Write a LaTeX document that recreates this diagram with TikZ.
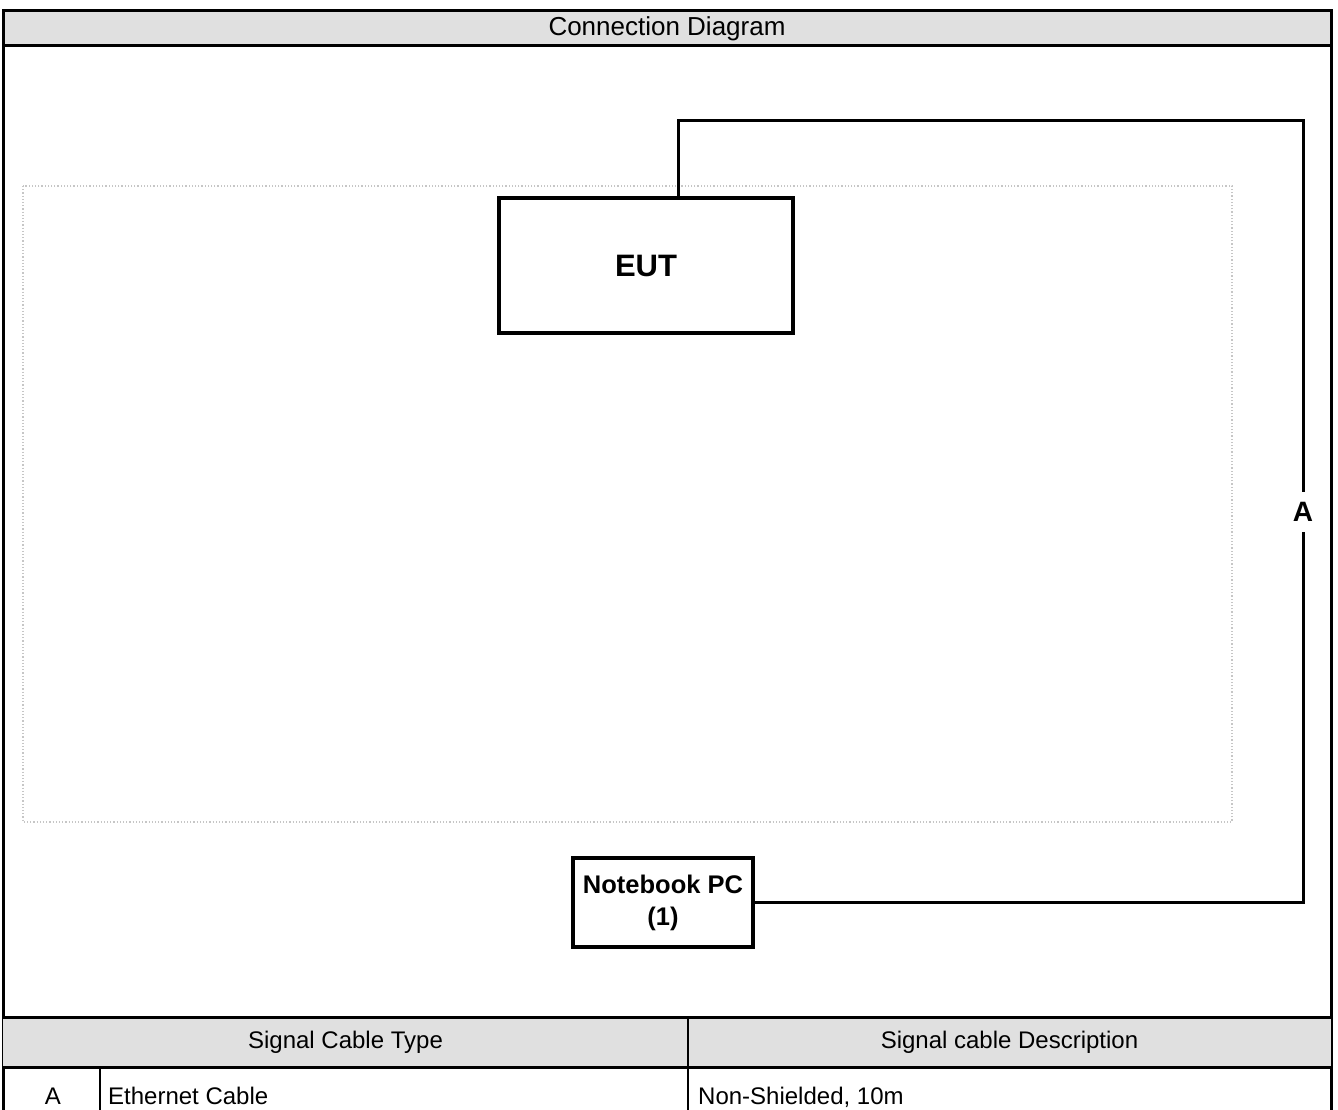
\documentclass[tikz,border=0pt]{standalone}
\usepackage{fontspec}
\setmainfont{Liberation Sans}
\usepackage{tikz}
\usetikzlibrary{positioning}
\definecolor{hdrgray}{RGB}{224,224,224}

\begin{document}
\begin{tikzpicture}[x=1pt,y=-1pt,
      frame line/.style={line width=3pt},
      cell line/.style={line width=2.2pt},
      unit box/.style={draw,line width=3.5pt,rectangle,inner sep=0pt,font=\fontsize{25.5}{32}\selectfont\bfseries,align=center},
      cable/.style={line width=3pt},
      cable label/.style={fill=white,inner sep=0pt,minimum height=40pt,font=\fontsize{28}{30}\selectfont\bfseries},
      table text/.style={inner sep=0pt,font=\fontsize{24}{28}\selectfont}]
      \clip (0,0) rectangle (1338,1110);
      \fill[white] (0,0) rectangle (1338,1110);

      % title band and frame
      \fill[hdrgray] (3,11) rectangle (1331,46);
      \draw[frame line] (3,1120) -- (3,11) -- (1331,11) -- (1331,1120);
      \draw[frame line] (3,46) -- (1331,46);
      \node[table text,font=\fontsize{26}{30}\selectfont] (title) at (667,29) {Connection Diagram};

      % table area
      \draw[gray!45,dotted,line width=1.2pt] (23,186) rectangle (1232,822);

      % units
      \node[unit box,minimum width=294pt,minimum height=135pt,font=\fontsize{31}{34}\selectfont\bfseries] (eut) at (646,265.5) {EUT};
      \node[unit box,minimum width=180pt,minimum height=89pt] (pc) at (663,902.5) {Notebook PC\\(1)};

      % cable A
      \coordinate (port) at (678,198);
      \coordinate (corner) at (1303,121);
      \draw[cable] (port) |- (corner) -- node[cable label] {A} (corner |- pc.east) -- (pc.east);

      % cable table
      \fill[hdrgray] (3,1017) rectangle (1331,1067);
      \draw[frame line] (3,1017) -- (1331,1017);
      \draw[frame line] (3,1067) -- (1331,1067);
      \draw[cell line] (688,1017) -- (688,1120);
      \draw[cell line] (100,1067) -- (100,1120);
      \node[table text] (typehead) at (345.5,1042) {Signal Cable Type};
      \node[table text] (deschead) at (1009.5,1042) {Signal cable Description};
      \node[table text,anchor=base] (rowid) at (53,1104) {A};
      \node[table text,anchor=base west] (rowtype) at (108,1104) {Ethernet Cable};
      \node[table text,anchor=base west] (rowdesc) at (698,1104) {Non-Shielded, 10m};
    \end{tikzpicture}
\end{document}
